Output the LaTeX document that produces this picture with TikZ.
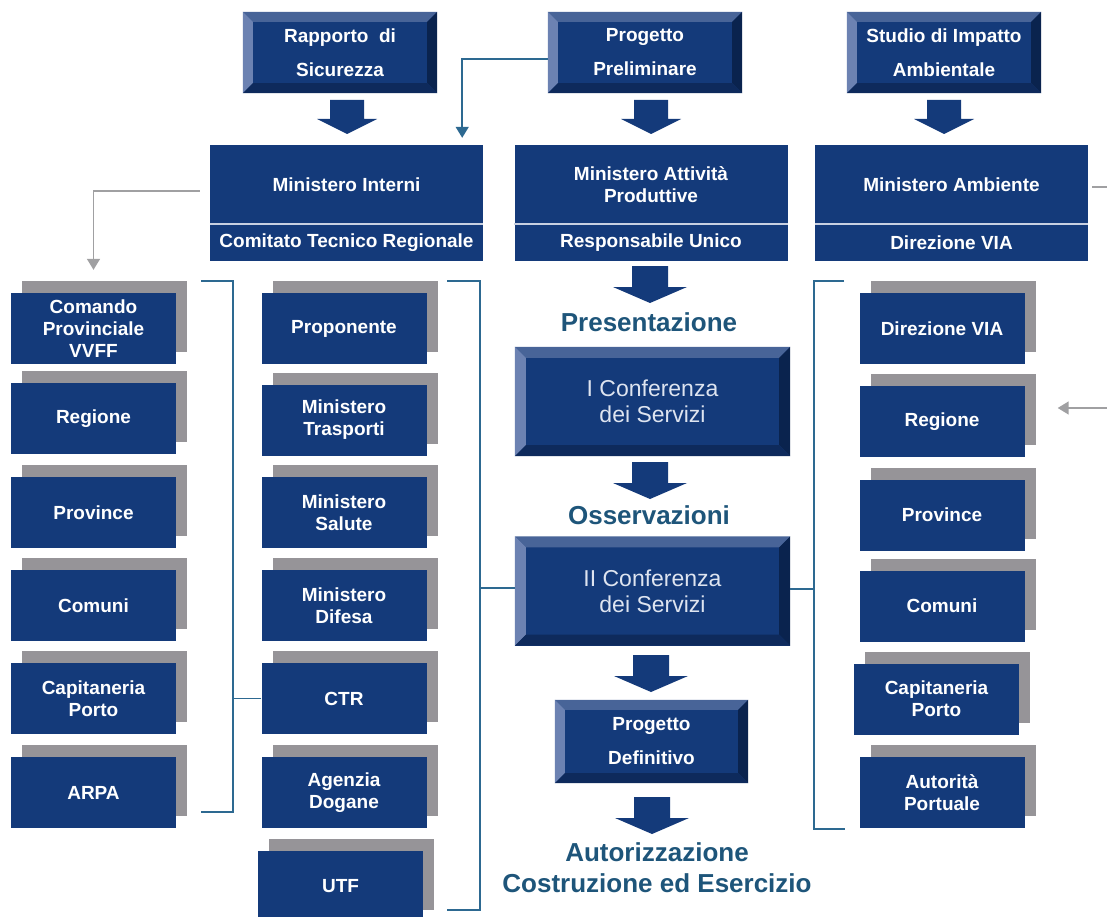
\documentclass[tikz,border=0pt]{standalone}
\usepackage{fontspec}
\setmainfont{Liberation Sans}
\usetikzlibrary{arrows.meta,shadows}
\definecolor{boxblue}{RGB}{20,58,122}
\definecolor{shadowgray}{RGB}{150,148,152}
\definecolor{bvtop}{RGB}{72,100,152}
\definecolor{bvleft}{RGB}{108,130,178}
\definecolor{bvright}{RGB}{10,35,78}
\definecolor{bvbottom}{RGB}{14,42,92}
\definecolor{tealtxt}{RGB}{30,85,122}
\definecolor{tealline}{RGB}{45,105,145}
\definecolor{grayline}{RGB}{160,160,162}
\definecolor{septint}{RGB}{200,208,225}
\definecolor{conftxt}{RGB}{222,228,240}
\newcommand\bevel[2]{%
 \fill[bvtop] (#1.north west) -- (#1.north east) -- ([xshift=-#2pt,yshift=-#2pt]#1.north east) -- ([xshift=#2pt,yshift=-#2pt]#1.north west) -- cycle;
 \fill[bvleft] (#1.north west) -- ([xshift=#2pt,yshift=-#2pt]#1.north west) -- ([xshift=#2pt,yshift=#2pt]#1.south west) -- (#1.south west) -- cycle;
 \fill[bvright] (#1.north east) -- ([xshift=-#2pt,yshift=-#2pt]#1.north east) -- ([xshift=-#2pt,yshift=#2pt]#1.south east) -- (#1.south east) -- cycle;
 \fill[bvbottom] (#1.south west) -- ([xshift=#2pt,yshift=#2pt]#1.south west) -- ([xshift=-#2pt,yshift=#2pt]#1.south east) -- (#1.south east) -- cycle;
}
\tikzset{
 box/.style={fill=boxblue, text=white, font=\fontsize{19}{22}\selectfont\bfseries, align=center, inner sep=0pt, minimum width=165pt, minimum height=71pt},
 sbox/.style={box, general shadow={fill=shadowgray, shadow xshift=11pt, shadow yshift=12pt}},
 topbox/.style={box, minimum width=194pt, minimum height=81pt, font=\fontsize{19}{34}\selectfont\bfseries},
 mtop/.style={box, minimum width=273pt, minimum height=79pt},
 mbot/.style={box, minimum width=273pt, minimum height=36pt},
 confbox/.style={box, minimum width=275pt, minimum height=109pt, text=conftxt, font=\fontsize{23}{26}\selectfont},
 steplabel/.style={text=tealtxt, font=\fontsize{26}{31}\selectfont\bfseries, align=center, inner sep=0pt},
 sepline/.style={draw=septint, line width=1.5pt},
 grayconn/.style={draw=grayline, line width=1.5pt, -{Triangle[width=13pt,length=11pt]}},
 grayplain/.style={draw=grayline, line width=1.5pt},
 tealconn/.style={draw=tealline, line width=1.5pt, -{Triangle[width=13pt,length=11pt]}},
 bracket/.style={draw=tealline, line width=1.5pt},
 bigarrow/.pic={\fill[boxblue] (-18,0) -- (18,0) -- (18,21) -- (37,21) -- (0,37) -- (-37,21) -- (-18,21) -- cycle;},
 smallarrow/.pic={\fill[boxblue] (-17,0) -- (17,0) -- (17,19) -- (30,19) -- (0,34) -- (-30,19) -- (-17,19) -- cycle;}
}
\begin{document}
\begin{tikzpicture}[x=1pt,y=-1pt]
\useasboundingbox (0,0) rectangle (1107,917);
\clip (0,0) rectangle (1107,917);
\fill[white] (0,0) rectangle (1107,917);

% top boxes
\node[topbox] (rs) at (340,52.5) {Rapporto\ \ di\\Sicurezza};
\node[topbox] (pp) at (645,52.5) {Progetto\\Preliminare};
\node[topbox] (sia) at (944,52.5) {Studio di Impatto\\Ambientale};
\bevel{rs}{10}\bevel{pp}{10}\bevel{sia}{10}

\pic at (347,100) {smallarrow};
\pic at (651,100) {smallarrow};
\pic at (944,100) {smallarrow};

% ministries
\node[mtop] (mi) at (346.5,184.5) {Ministero Interni};
\node[mbot] (mib) at (346.5,242.5) {Comitato Tecnico Regionale};
\node[mtop] (mp) at (651,184.5) {Ministero Attività\\Produttive};
\node[mbot] (mpb) at (651,242.5) {Responsabile Unico};
\node[mtop] (ma) at (951.5,184.5) {Ministero Ambiente};
\node[mbot] (mab) at (951.5,242.5) {Direzione VIA};
\draw[sepline] (mi.south west) -- (mi.south east);
\draw[sepline] (mp.south west) -- (mp.south east);
\draw[sepline] (ma.south west) -- (ma.south east);

% left column
\node[sbox] (l1) at (93.5,328.5) {Comando\\Provinciale\\VVFF};
\node[sbox] (l2) at (93.5,418.5) {Regione};
\node[sbox] (l3) at (93.5,512.5) {Province};
\node[sbox] (l4) at (93.5,605.5) {Comuni};
\node[sbox] (l5) at (93.5,698.5) {Capitaneria\\Porto};
\node[sbox] (l6) at (93.5,792.5) {ARPA};

% second column
\node[sbox] (m1) at (344,328.5) {Proponente};
\node[sbox] (m2) at (344,420) {Ministero\\Trasporti};
\node[sbox] (m3) at (344,512.5) {Ministero\\Salute};
\node[sbox] (m4) at (344,605.5) {Ministero\\Difesa};
\node[sbox] (ctr) at (344,698.5) {CTR};
\node[sbox] (m6) at (344,792.5) {Agenzia\\Dogane};
\node[sbox] (utf) at (340.5,886.5) {UTF};

% right column
\node[sbox] (r1) at (942,328.5) {Direzione VIA};
\node[sbox] (r2) at (942,421.5) {Regione};
\node[sbox] (r3) at (942,515) {Province};
\node[sbox] (r4) at (942,606) {Comuni};
\node[sbox] (r5) at (936.5,699) {Capitaneria\\Porto};
\node[sbox] (r6) at (942,792.5) {Autorità\\Portuale};

% centre flow
\pic at (650,266) {bigarrow};
\node[steplabel] (pres) at (649,322) {Presentazione};
\node[confbox] (c1) at (652.5,401.5) {I Conferenza\\dei Servizi};
\bevel{c1}{11}
\pic at (650,462) {bigarrow};
\node[steplabel] (oss) at (649,515) {Osservazioni};
\node[confbox] (c2) at (652.5,591) {II Conferenza\\dei Servizi};
\bevel{c2}{11}
\pic at (651,655) {bigarrow};
\node[topbox, minimum width=193pt, minimum height=83pt] (pd) at (651.5,741.5) {Progetto\\Definitivo};
\bevel{pd}{10}
\pic at (652,797) {bigarrow};
\node[steplabel] (aut) at (657,868) {Autorizzazione\\Costruzione ed Esercizio};

% connectors
\coordinate (b1top) at (201,281);
\coordinate (b1bot) at (233,812);
\coordinate (b1end) at (201,812);
\draw[bracket] (b1top) -| (b1bot) -- (b1end);
\draw[bracket] (ctr.west) -- (ctr.west -| b1bot);

\coordinate (b2top) at (447,281);
\coordinate (b2bot) at (480,910);
\coordinate (b2end) at (447,910);
\draw[bracket] (b2top) -| (b2bot) -- (b2end);
\draw[bracket] ([yshift=3pt]c2.west) -- ([yshift=3pt]c2.west -| b2bot);

\coordinate (b3top) at (844,281);
\coordinate (b3bot) at (814,829);
\coordinate (b3end) at (845,829);
\draw[bracket] (b3top) -| (b3bot) -- (b3end);
\draw[bracket] ([yshift=2pt]c2.east) -- ([yshift=2pt]c2.east -| b3bot);

\draw[grayconn] ([xshift=-10pt,yshift=-6.5pt]mi.west) -| ([yshift=23pt]l1.north);
\draw[tealconn] ([yshift=-6.5pt]pp.west) -| ([xshift=-21pt,yshift=7pt]mi.north east);
\coordinate (offa) at (1107,187);
\draw[grayplain] ([xshift=4pt,yshift=-2.5pt]ma.east) -- (offa);
\coordinate (offb) at (1107,408);
\draw[grayconn] (offb) -- ([xshift=33pt,yshift=13.5pt]r2.east);
\end{tikzpicture}
\end{document}
